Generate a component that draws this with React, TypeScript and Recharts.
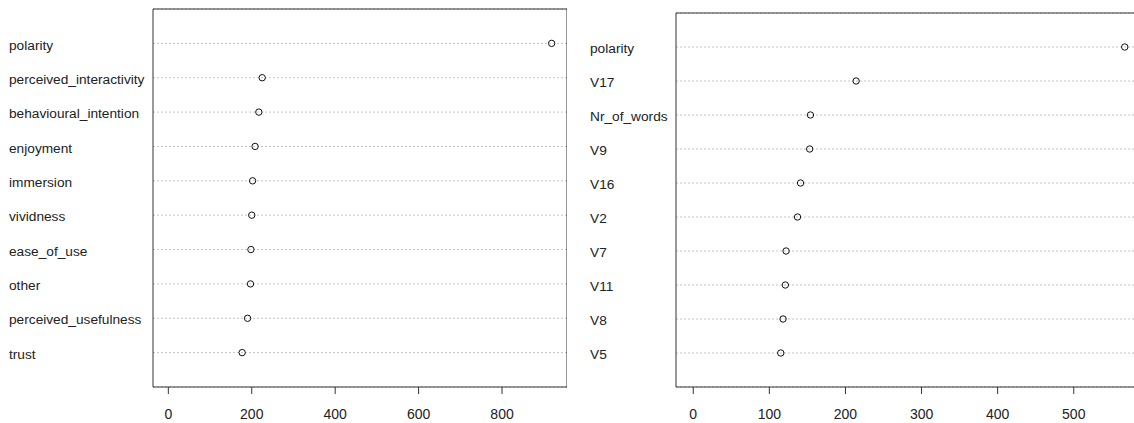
import { ScatterChart, Scatter, XAxis, YAxis, CartesianGrid, ReferenceArea } from 'recharts';

const FONT = '"Liberation Sans", Arial, sans-serif';

// left panel (top to bottom)
const leftNames = [
  'polarity',
  'perceived_interactivity',
  'behavioural_intention',
  'enjoyment',
  'immersion',
  'vividness',
  'ease_of_use',
  'other',
  'perceived_usefulness',
  'trust',
];
const leftValues = [919, 225, 217, 208, 202, 200, 198, 197, 190, 177];
const leftTicks = [0, 200, 400, 600, 800];

// right panel (top to bottom)
const rightNames = ['polarity', 'V17', 'Nr_of_words', 'V9', 'V16', 'V2', 'V7', 'V11', 'V8', 'V5'];
const rightValues = [567, 214, 154, 153, 141, 137, 122, 121, 118, 115];
const rightTicks = [0, 100, 200, 300, 400, 500];

const rowTicks = [1, 2, 3, 4, 5, 6, 7, 8, 9, 10];

const Dot = (props: any) => (
  <circle cx={props.cx} cy={props.cy} r={3.2} fill="none" stroke="#111" strokeWidth={1} />
);

function DotPanel({
  names,
  values,
  ticks,
  width,
  top,
  axisWidth,
  labelX,
}: {
  names: string[];
  values: number[];
  ticks: number[];
  width: number;
  top: number;
  axisWidth: number;
  labelX: number;
}) {
  const n = names.length;
  const max = Math.max(...values);
  const domain = [-0.04 * max, 1.04 * max];
  const data = values.map((v, i) => ({ x: v, y: n - i }));
  const rowLabel = (props: any) => {
    const idx = n - props.payload.value;
    return (
      <text x={labelX} y={props.y} dy="0.45em" textAnchor="start" fontSize={13.7} fill="#222" fontFamily={FONT}>
        {names[idx]}
      </text>
    );
  };
  return (
    <ScatterChart width={width} height={423} margin={{ top, right: 0, bottom: 0, left: 0 }}>
      <CartesianGrid vertical={false} stroke="#c4c4c4" strokeDasharray="2 2" />
      <XAxis
        type="number"
        dataKey="x"
        domain={domain}
        ticks={ticks}
        allowDataOverflow
        height={36}
        axisLine={false}
        tickSize={7}
        tickMargin={15}
        tickLine={{ stroke: '#333' }}
        tick={{ fontSize: 14, fill: '#222', fontFamily: FONT }}
      />
      <YAxis
        type="number"
        dataKey="y"
        domain={[0, n + 1]}
        ticks={rowTicks}
        allowDataOverflow
        width={axisWidth}
        axisLine={false}
        tickLine={false}
        tick={rowLabel}
      />
      <ReferenceArea x1={domain[0]} x2={domain[1]} y1={0} y2={n + 1} fill="none" stroke="#333" strokeWidth={1} ifOverflow="visible" />
      <Scatter data={data} shape={Dot} isAnimationActive={false} />
    </ScatterChart>
  );
}

export default function App() {
  return (
    <div style={{ position: 'absolute', left: 0, top: 0, width: 1134, height: 423, overflow: 'hidden', background: '#fff' }}>
      <div style={{ position: 'absolute', left: 0, top: 0, width: 580, height: 423 }}>
        <DotPanel names={leftNames} values={leftValues} ticks={leftTicks} width={567} top={9} axisWidth={153} labelX={9} />
      </div>
      <div style={{ position: 'absolute', left: 580, top: 0, width: 554, height: 423, overflow: 'hidden' }}>
        <DotPanel names={rightNames} values={rightValues} ticks={rightTicks} width={562} top={13} axisWidth={96} labelX={10} />
      </div>
    </div>
  );
}
